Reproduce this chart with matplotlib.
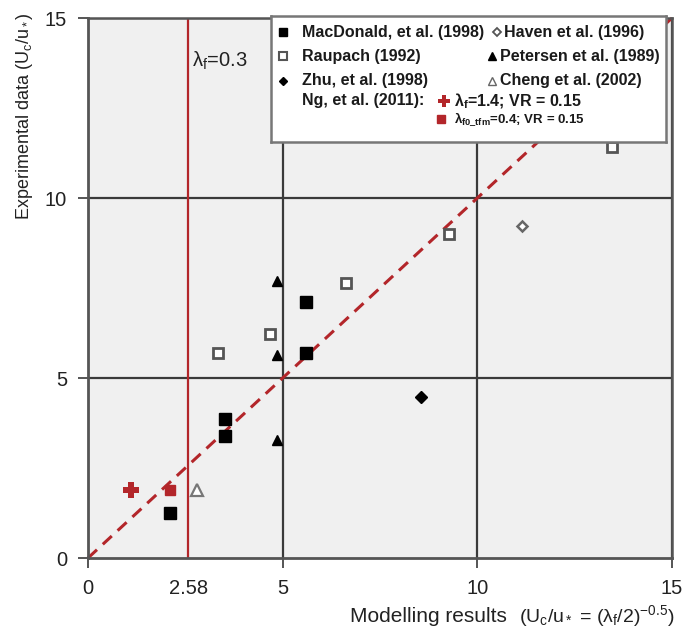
import matplotlib
matplotlib.use("Agg")
import matplotlib.pyplot as plt

plt.rcParams['font.family'] = ['Liberation Sans', 'DejaVu Sans']
plt.rcParams['mathtext.fontset'] = 'custom'
plt.rcParams['mathtext.rm'] = 'Liberation Sans'
plt.rcParams['mathtext.it'] = 'Liberation Sans'
plt.rcParams['mathtext.bf'] = 'Liberation Sans:bold'
plt.rcParams['mathtext.default'] = 'regular'

# ---------------- data ----------------
macdonald_x = [2.10, 3.52, 3.52, 5.61, 5.61]
macdonald_y = [1.25, 3.87, 3.40, 7.10, 5.70]
raupach_x = [3.34, 4.67, 6.62, 9.28, 13.46]
raupach_y = [5.70, 6.23, 7.63, 9.00, 11.42]
zhu_x = [8.56]
zhu_y = [4.47]
haven_x = [11.16]
haven_y = [9.21]
petersen_x = [4.85, 4.85, 4.85]
petersen_y = [3.27, 5.65, 7.69]
cheng_x = [2.81]
cheng_y = [1.88]
ng_cross_x = [1.10]
ng_cross_y = [1.88]
ng_square_x = [2.10]
ng_square_y = [1.88]
lambda_line_x = 2.58
ideal_x = [0, 15]
ideal_y = [0, 15]
x_ticks = [0, 2.58, 5, 10, 15]
x_ticklabels = ['0', '2.58', '5', '10', '15']
y_ticks = [0, 5, 10, 15]
y_ticklabels = ['0', '5', '10', '15']

W, H = 691, 628
fig = plt.figure(figsize=(W / 100, H / 100), dpi=100)
ax = fig.add_axes([88 / W, 1 - 558 / H, (672 - 88) / W, (558 - 18) / H])
ax.set_facecolor('#f0f0f0')
ax.set_xlim(0, 15)
ax.set_ylim(0, 15)

red = '#b3262a'
for v in [5, 10, 15]:
    ax.axvline(v, color='#3a3a3a', lw=1.6, zorder=1)
    ax.axhline(v, color='#3a3a3a', lw=1.6, zorder=1)

ax.axvline(lambda_line_x, color=red, lw=1.6, zorder=2)
ax.plot(ideal_x, ideal_y, color=red, lw=2.2, ls=(0, (4, 2.6)), zorder=2, clip_on=False)

ms = 8.5
ax.plot(macdonald_x, macdonald_y, 's', color='black', ms=ms, zorder=4)
ax.plot(raupach_x, raupach_y, 's', mfc='white', mec='#555555', mew=2, ms=ms - 1, zorder=4)
ax.plot(zhu_x, zhu_y, 'D', color='black', ms=6.5, zorder=4)
ax.plot(haven_x, haven_y, 'D', mfc='white', mec='#666666', mew=1.8, ms=5.5, zorder=4)
ax.plot(petersen_x, petersen_y, '^', color='black', ms=7.5, zorder=4)
ax.plot(cheng_x, cheng_y, '^', mfc='white', mec='#777777', mew=1.6, ms=8, zorder=4)
ax.plot(ng_cross_x, ng_cross_y, 'P', color=red, ms=11, mew=0, zorder=4)
ax.plot(ng_square_x, ng_square_y, 's', color=red, ms=7, zorder=4)

ax.text(lambda_line_x + 0.1, 13.8, r'$\lambda_f$=0.3', fontsize=14.5, color='#222222',
        va='center', ha='left')

ax.set_xticks(x_ticks)
ax.set_xticklabels(x_ticklabels)
ax.set_yticks(y_ticks)
ax.set_yticklabels(y_ticklabels)
ax.tick_params(axis='both', labelsize=14.5, length=7, width=1.4, color='#555555',
               direction='out', labelcolor='#222222')
ax.tick_params(axis='x', pad=8)
ax.tick_params(axis='y', pad=8)
ax.get_xticklines()[2].set_visible(False)
for s in ['left', 'bottom']:
    ax.spines[s].set_color('#555555')
    ax.spines[s].set_linewidth(2)
for s in ['top', 'right']:
    ax.spines[s].set_color('#555555')
    ax.spines[s].set_linewidth(1.8)

fig.text(25 / W, 1 - 116 / H, r'Experimental data (U$_c$/u$_*$)', fontsize=13,
         color='#222222', rotation=90, ha='center', va='center')
fig.text(507 / W, 1 - 616 / H, 'Modelling results', fontsize=15, color='#222222',
         ha='right', va='center')
fig.text(519 / W, 1 - 616 / H, r'(U$_c$/u$_*$ = ($\lambda_f$/2)$^{-0.5}$)', fontsize=14,
         color='#222222', ha='left', va='center')

# -------- legend (drawn as a boxed inset) --------
lx0, ly0, lx1, ly1 = 271, 16, 666, 142
lg = fig.add_axes([lx0 / W, 1 - ly1 / H, (lx1 - lx0) / W, (ly1 - ly0) / H])
lg.set_xlim(0, lx1 - lx0)
lg.set_ylim(ly1 - ly0, 0)
lg.set_xticks([])
lg.set_yticks([])
lg.set_facecolor('white')
for s in lg.spines.values():
    s.set_color('#777777')
    s.set_linewidth(1.8)

fs = 11.5
def entry(mx, my, marker, tx, label, size=fs, **kw):
    lg.plot([mx], [my], marker, **kw)
    lg.text(tx, my, label, fontsize=size, fontweight='bold', va='center', ha='left',
            color='#1a1a1a')

entry(12, 16, 's', 31, 'MacDonald, et al. (1998)', color='black', ms=6)
entry(226, 16, 'D', 233, 'Haven et al. (1996)', mfc='white', mec='#555555', mew=1.3, ms=4)
entry(12, 40, 's', 31, 'Raupach (1992)', mfc='white', mec='#555555', mew=1.5, ms=5.5)
entry(221, 40, '^', 229, 'Petersen et al. (1989)', color='black', ms=6)
entry(12, 65, 'D', 31, 'Zhu, et al. (1998)', color='black', ms=4.5)
entry(221, 65, '^', 229, 'Cheng et al. (2002)', mfc='white', mec='#666666', mew=1, ms=6)
lg.text(31, 84, 'Ng, et al. (2011):', fontsize=fs, fontweight='bold', va='center', color='#1a1a1a')
entry(173, 85, 'P', 183, r'$\lambda_f$=1.4; VR = 0.15', color=red, ms=8, mew=0)
entry(170, 103, 's', 183, r'$\lambda_{f0\_tfm}$=0.4; VR = 0.15', size=9.5, color=red, ms=6)

fig.savefig('out.png', dpi=100)
